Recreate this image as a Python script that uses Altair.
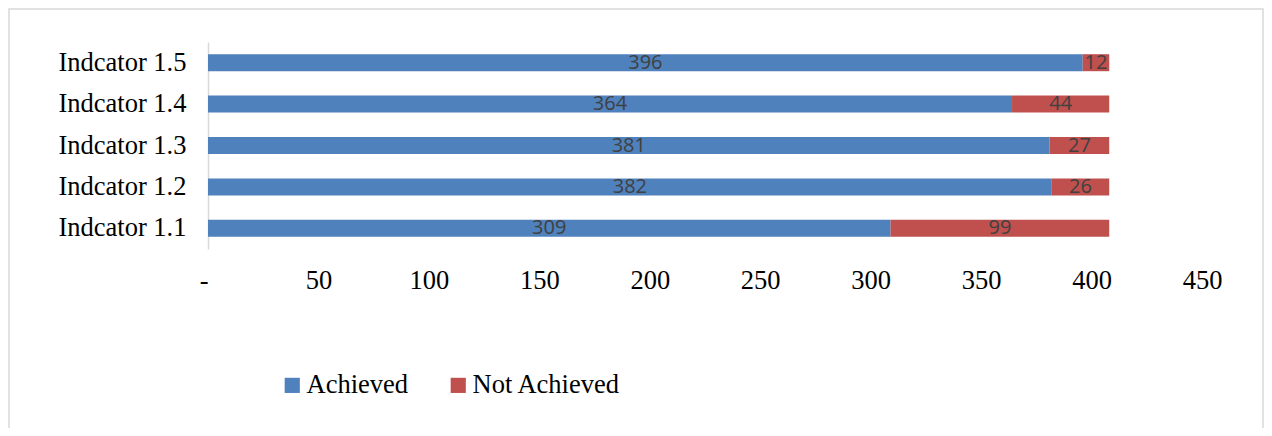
import altair as alt
import pandas as pd

categories = ["Indcator 1.1", "Indcator 1.2", "Indcator 1.3", "Indcator 1.4", "Indcator 1.5"]
achieved = [309, 382, 381, 364, 396]
not_achieved = [99, 26, 27, 44, 12]
series = ["Achieved", "Not Achieved"]
colors = ["#4F81BD", "#C0504D"]
x_ticks = [0, 50, 100, 150, 200, 250, 300, 350, 400, 450]

rows = []
for c, a, n in zip(categories, achieved, not_achieved):
    rows.append({"cat": c, "series": series[0], "value": a, "ord": 0})
    rows.append({"cat": c, "series": series[1], "value": n, "ord": 1})
df = pd.DataFrame(rows)

y_sort = list(reversed(categories))
serif = "Liberation Serif"
fs = 26.5

base = alt.Chart(df).transform_stack(
    stack="value", groupby=["cat"], as_=["x0", "x1"], sort=[alt.SortField("ord")]
).transform_calculate(mid="(datum.x0 + datum.x1) / 2")

xscale = alt.Scale(domain=[0, 450], nice=False, zero=True)

bars = base.mark_bar(size=17).encode(
    y=alt.Y("cat:N", sort=y_sort, title=None,
            axis=alt.Axis(domain=True, domainColor="#d9d9d9", domainWidth=1.5, ticks=False,
                          labelFont=serif, labelFontSize=fs, labelColor="#000000",
                          labelPadding=22, labelLimit=400)),
    x=alt.X("x0:Q", scale=xscale, title=None,
            axis=alt.Axis(values=x_ticks, domain=False, ticks=False, grid=False,
                          labelFont=serif, labelFontSize=fs, labelColor="#000000",
                          labelPadding=18, labelFlush=False, labelOverlap=False,
                          labelAlign=alt.condition("datum.value == 0", alt.value("right"), alt.value("center")),
                          labelExpr="datum.value == 0 ? '-' : datum.label")),
    x2="x1:Q",
    color=alt.Color("series:N", scale=alt.Scale(domain=series, range=colors), title=None,
                    legend=alt.Legend(orient="none", legendX=71, legendY=330,
                                      direction="horizontal", symbolType="square",
                                      symbolSize=230, symbolStrokeWidth=0,
                                      labelFont=serif, labelFontSize=fs, labelColor="#000000",
                                      labelOffset=1, columnPadding=36, padding=0)),
)

labels = base.mark_text(font="Open Sans", fontSize=20, color="#404040", baseline="middle").encode(
    y=alt.Y("cat:N", sort=y_sort),
    x=alt.X("mid:Q", scale=xscale),
    text=alt.Text("value:Q"),
)

frame = alt.Chart(pd.DataFrame({"f": [0]})).mark_rect(
    fillOpacity=0, stroke="#d9d9d9", strokeWidth=1.5
).encode(
    x=alt.value(-199), x2=alt.value(1055), y=alt.value(-33), y2=alt.value(420)
)

chart = alt.layer(frame, bars, labels).properties(
    width=994, height=207,
    autosize=alt.AutoSizeParams(type="none"),
    padding={"left": 200, "top": 34, "right": 62, "bottom": 179},
).configure_view(stroke=None)

chart.save("out.html", embed_options={"renderer": "svg", "actions": False})
